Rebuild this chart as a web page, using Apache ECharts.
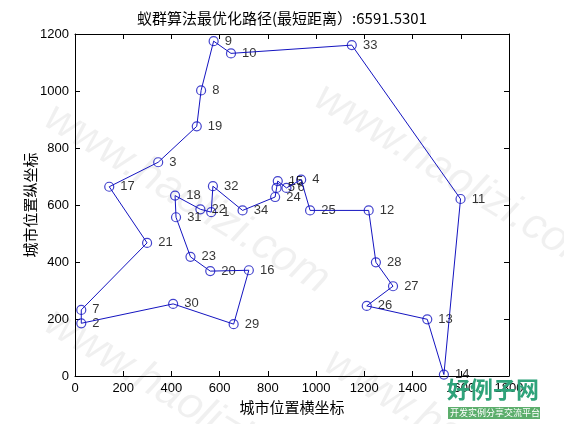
<!DOCTYPE html>
<html>
<head>
<meta charset="utf-8">
<script src="https://cdn.jsdelivr.net/npm/echarts@6/dist/echarts.min.js"></script>
<style>
  html, body { margin: 0; padding: 0; background: #fff; }
  #chart { width: 564px; height: 424px; }
</style>
</head>
<body>
<div id="chart"></div>
<script type="text/javascript">
  // route order (city ids) and coordinates
  var cityIds = [14, 13, 26, 27, 28, 12, 25, 4, 6, 15, 5, 24, 34, 32, 1, 22, 18, 31,
    23, 20, 16, 29, 30, 2, 7, 21, 17, 3, 19, 8, 9, 10, 33, 11];
  var cityX = [1530, 1461, 1210, 1319, 1248, 1218, 975, 938, 877, 841, 836, 830, 695, 572, 565, 520, 415, 419,
    479, 561, 721, 658, 407, 26, 26, 299, 142, 345, 505, 523, 575, 647, 1148, 1599];
  var cityY = [5, 199, 246, 315, 399, 581, 581, 689, 660, 684, 660, 628, 581, 666, 575, 585, 633, 557,
    418, 368, 371, 182, 253, 185, 232, 467, 664, 750, 876, 1002, 1175, 1132, 1161, 621];
  var xTicks = [0, 200, 400, 600, 800, 1000, 1200, 1400, 1600, 1800];
  var yTicks = [0, 200, 400, 600, 800, 1000, 1200];
  var bestDist = '6591.5301';

  var chart = echarts.init(document.getElementById('chart'));

  var pts = [];
  cityIds.map(function (id, i) {
    pts.push([cityX[i], cityY[i], id]);
  });
  var route = pts.concat([pts[0]]);

  var blue = '#1414c0';
  var font = "'Liberation Sans Narrow', 'Liberation Sans', Arial, sans-serif";
  var cjk = "'Noto Sans CJK SC', sans-serif";

  function plain(v) { return String(v); }

  function xAx(pos, showLabel) {
    return {
      type: 'value', position: pos, min: xTicks[0], max: xTicks[xTicks.length - 1], interval: 200,
      axisLine: { show: true, onZero: false, lineStyle: { color: '#000', width: 1 } },
      axisTick: { show: true, inside: true, length: 5, lineStyle: { color: '#000' } },
      axisLabel: { show: showLabel, color: '#000', fontSize: 13, fontFamily: font, margin: 6, formatter: plain },
      splitLine: { show: false }
    };
  }
  function yAx(pos, showLabel) {
    return {
      type: 'value', position: pos, min: yTicks[0], max: yTicks[yTicks.length - 1], interval: 200,
      axisLine: { show: true, onZero: false, lineStyle: { color: '#000', width: 1 } },
      axisTick: { show: true, inside: true, length: 5, lineStyle: { color: '#000' } },
      axisLabel: { show: showLabel, color: '#000', fontSize: 13, fontFamily: font, margin: 6, formatter: plain },
      splitLine: { show: false }
    };
  }

  var xBottom = xAx('bottom', true);
  xBottom.name = '城市位置横坐标';
  xBottom.nameLocation = 'middle';
  xBottom.nameGap = 18;
  xBottom.nameTextStyle = { color: '#000', fontSize: 15, fontFamily: cjk };
  var yLeft = yAx('left', true);
  yLeft.name = '城市位置纵坐标';
  yLeft.nameLocation = 'middle';
  yLeft.nameGap = 37;
  yLeft.nameMoveOverlap = false;
  yLeft.nameTextStyle = { color: '#000', fontSize: 15, fontFamily: cjk };

  var marks = [
    [60, 95], [330, 75], [60, 300], [340, 340]
  ];

  chart.setOption({
    backgroundColor: '#fff',
    animation: false,
    title: {
      text: '蚁群算法最优化路径(最短距离）:' + bestDist,
      left: 'center',
      top: 6,
      textStyle: { color: '#000', fontSize: 15, fontWeight: 'normal', fontFamily: cjk }
    },
    grid: { left: 75, right: 55, top: 34, bottom: 48 },
    xAxis: [xBottom, xAx('top', false)],
    yAxis: [yLeft, yAx('right', false)],
    graphic: marks.map(function (m) {
      return {
        type: 'text', x: m[0], y: m[1], rotation: -0.55, z: -10, silent: true,
        style: { text: 'www.haolizi.com', fill: 'rgba(0,0,0,0.06)', font: 'italic 44px ' + font }
      };
    }).concat([
      { type: 'text', x: 447, y: 378, z: 100,
        style: { text: '好例子网', fill: '#2fa37a', font: 'bold 23px ' + cjk } },
      { type: 'rect', shape: { x: 448, y: 407, width: 92, height: 12 }, z: 100,
        style: { fill: '#5cae6c' } },
      { type: 'text', x: 450, y: 408, z: 101,
        style: { text: '开发实例分享交流平台', fill: '#fff', font: '9px ' + cjk } }
    ]),
    series: [
      {
        type: 'line',
        data: route,
        showSymbol: false,
        lineStyle: { color: blue, width: 1 },
        silent: true
      },
      {
        type: 'scatter',
        data: pts,
        symbol: 'circle',
        symbolSize: 9,
        itemStyle: { color: 'rgba(0,0,0,0)', borderColor: blue, borderWidth: 1.2 },
        label: {
          show: true,
          position: 'right',
          distance: 6,
          color: '#000',
          fontSize: 13,
          fontFamily: font,
          formatter: function (p) { return p.data[2]; }
        }
      }
    ]
  });
</script>
</body>
</html>
